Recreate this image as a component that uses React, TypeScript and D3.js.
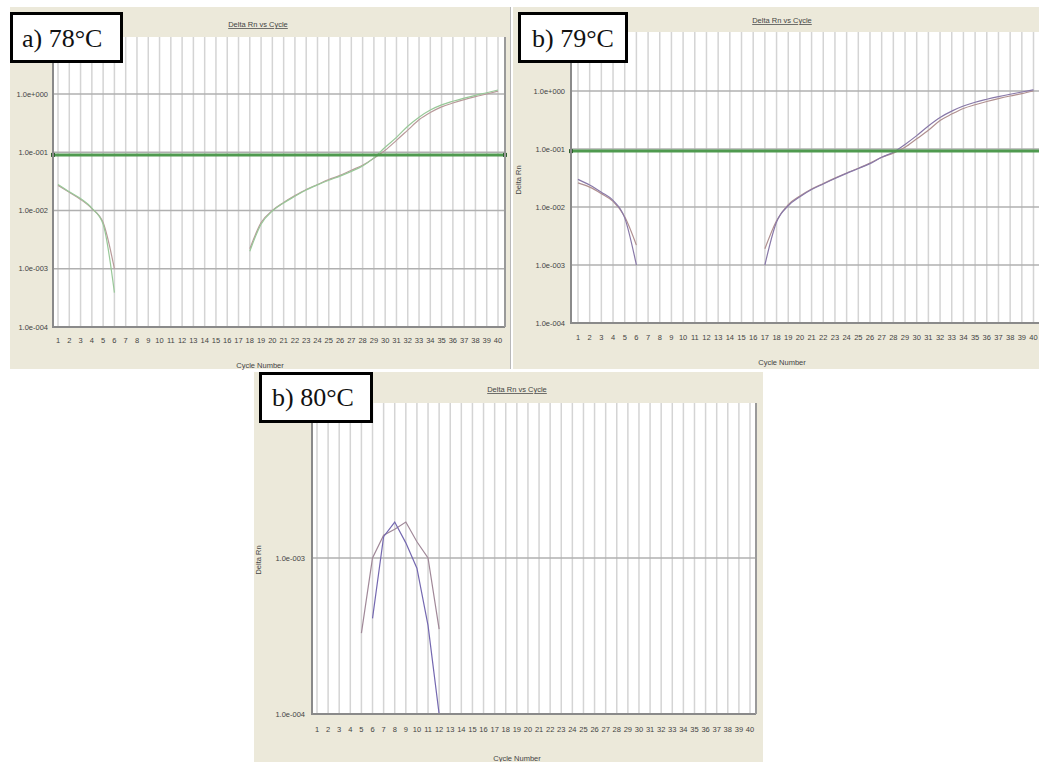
import React from "react";
import * as d3 from "d3";

// ---------- DATA ----------
const cycleTicks = [1, 2, 3, 4, 5, 6, 7, 8, 9, 10, 11, 12, 13, 14, 15, 16, 17, 18, 19, 20,
  21, 22, 23, 24, 25, 26, 27, 28, 29, 30, 31, 32, 33, 34, 35, 36, 37, 38, 39, 40];

const yTickValuesAB = [1, 0.1, 0.01, 0.001, 0.0001];
const yTickLabelsAB = ["1.0e+000", "1.0e-001", "1.0e-002", "1.0e-003", "1.0e-004"];
const yTickValuesC = [0.001, 0.0001];
const yTickLabelsC = ["1.0e-003", "1.0e-004"];

// Panel a) 78°C
const aEarlyCycles = [1, 2, 3, 4, 5, 6];
const aEarlyPink = [0.027, 0.0205, 0.0155, 0.0108, 0.0062, 0.001];
const aEarlyGreen = [0.028, 0.021, 0.016, 0.011, 0.0058, 0.00039];
const aLateCycles = [18, 19, 20, 21, 22, 23, 24, 25, 26, 27, 28, 29, 30, 31, 32, 33, 34, 35, 36, 37, 38, 39, 40];
const aLatePink = [0.0022, 0.0062, 0.0100, 0.0137, 0.018, 0.023, 0.028, 0.034, 0.040, 0.049, 0.060, 0.079,
  0.108, 0.16, 0.24, 0.36, 0.48, 0.60, 0.70, 0.80, 0.90, 1.0, 1.12];
const aLateGreen = [0.0020, 0.0058, 0.0098, 0.0135, 0.0175, 0.0225, 0.0275, 0.033, 0.039, 0.047, 0.058, 0.080,
  0.122, 0.18, 0.28, 0.40, 0.53, 0.65, 0.75, 0.85, 0.95, 1.05, 1.17];
const aThreshold = 0.09;

// Panel b) 79°C
const bEarlyCycles = [1, 2, 3, 4, 5, 6];
const bEarlyPurple = [0.030, 0.024, 0.018, 0.013, 0.0065, 0.001];
const bEarlyPink = [0.026, 0.022, 0.017, 0.0125, 0.0068, 0.0022];
const bLateCycles = [17, 18, 19, 20, 21, 22, 23, 24, 25, 26, 27, 28, 29, 30, 31, 32, 33, 34, 35, 36, 37, 38, 39, 40];
const bLatePurple = [0.001, 0.0055, 0.0105, 0.015, 0.020, 0.025, 0.031, 0.038, 0.046, 0.056, 0.072, 0.088,
  0.12, 0.17, 0.25, 0.35, 0.45, 0.55, 0.64, 0.72, 0.80, 0.88, 0.96, 1.05];
const bLatePink = [0.0019, 0.0058, 0.011, 0.0155, 0.0205, 0.0255, 0.0315, 0.0385, 0.0465, 0.057, 0.072, 0.085,
  0.107, 0.15, 0.21, 0.31, 0.40, 0.50, 0.58, 0.66, 0.74, 0.82, 0.90, 1.0];
const bThreshold = 0.092;

// Panel b) 80°C
const cPinkCycles = [5, 6, 7, 8, 9, 10, 11, 12];
const cPink = [0.00033, 0.0010, 0.0014, 0.00153, 0.0017, 0.00127, 0.0010, 0.00035];
const cPurpleCycles = [6, 7, 8, 9, 10, 11, 12];
const cPurple = [0.00041, 0.00137, 0.0017, 0.00125, 0.00086, 0.00037, 0.0001];

// ---------- LAYOUT ----------
const BEIGE = "#ECE9DA";
const FONT = "'Liberation Sans', Arial, sans-serif";

type Series = { cycles: number[]; values: number[]; color: string; curve: any };

type Layout = {
  bg: [number, number, number, number];
  left: number; right: number; top: number; bottom: number;
  x1: number; x40: number;
  yLowVal: number; yHighVal: number; yHighPx: number;
  yLabelRight: number;
  xTickBase: number;
  title: [number, number];
  xTitle: [number, number];
  yTitle?: [number, number];
  box: [number, number, number, number];
  labelPos: [number, number];
  rightBorder: boolean;
};

function Panel({ L, series, threshold, yVals, yLabels, label }: {
  L: Layout; series: Series[]; threshold?: number; yVals: number[]; yLabels: string[]; label: string;
}) {
  const x = d3.scaleLinear().domain([1, 40]).range([L.x1, L.x40]);
  const y = d3.scaleLog().domain([L.yLowVal, L.yHighVal]).range([L.bottom, L.yHighPx]);
  const plotW = L.right - L.left;
  const plotH = L.bottom - L.top;
  const clipId = "clip" + L.left;
  return (
    <g>
      <rect x={L.bg[0]} y={L.bg[1]} width={L.bg[2]} height={L.bg[3]} fill={BEIGE} />
      <defs>
        <clipPath id={clipId}>
          <rect x={L.left} y={L.top} width={plotW} height={plotH} />
        </clipPath>
      </defs>
      <rect x={L.left} y={L.top} width={plotW} height={plotH} fill="#fff" />
      {cycleTicks.map((c) => (
        <line key={"v" + c} x1={x(c)} x2={x(c)} y1={L.top} y2={L.bottom} stroke="#d4d4d4" strokeWidth={1.5} />
      ))}
      {yVals.filter((v) => v !== L.yLowVal).map((v) => (
        <line key={"h" + v} x1={L.left} x2={L.right} y1={y(v)} y2={y(v)} stroke="#b0b0b0" strokeWidth={1.3} />
      ))}
      <g clipPath={`url(#${clipId})`}>
        {series.map((s, i) => {
          const line = d3.line<number>()
            .x((_, j) => x(s.cycles[j]))
            .y((v) => y(v))
            .curve(s.curve);
          return <path key={i} d={line(s.values) || ""} fill="none" stroke={s.color} strokeWidth={1.2} />;
        })}
      </g>
      {threshold !== undefined && (
        <g>
          <line x1={L.left} x2={L.right} y1={y(threshold)} y2={y(threshold)} stroke="#4f9a4f" strokeWidth={3} />
          <rect x={L.left - 2} y={y(threshold) - 2} width={4} height={4} fill="#2f5f2f" />
          <rect x={L.right - 2} y={y(threshold) - 2} width={4} height={4} fill="#2f5f2f" />
        </g>
      )}
      <line x1={L.left} x2={L.left} y1={L.top} y2={L.bottom + 1} stroke="#8a8a8a" strokeWidth={2} />
      <line x1={L.left} x2={L.right} y1={L.bottom} y2={L.bottom} stroke="#8a8a8a" strokeWidth={2} />
      {L.rightBorder && (
        <line x1={L.right} x2={L.right} y1={L.top} y2={L.bottom} stroke="#9a9a9a" strokeWidth={2} />
      )}
      {yVals.map((v, i) => (
        <text key={"yl" + i} x={L.yLabelRight} y={y(v) + 2.5} textAnchor="end" fontSize={7.5}
          fontFamily={FONT} fill="#444">{yLabels[i]}</text>
      ))}
      {cycleTicks.map((c) => (
        <text key={"xl" + c} x={x(c)} y={L.xTickBase} textAnchor="middle" fontSize={7.5}
          fontFamily={FONT} fill="#444">{c}</text>
      ))}
      <text x={L.title[0]} y={L.title[1]} textAnchor="middle" fontSize={7.5} fontFamily={FONT}
        fill="#444" style={{ textDecoration: "underline" }}>Delta Rn vs Cycle</text>
      <text x={L.xTitle[0]} y={L.xTitle[1]} textAnchor="middle" fontSize={7.5} fontFamily={FONT}
        fill="#444">Cycle Number</text>
      {L.yTitle && (
        <text x={L.yTitle[0]} y={L.yTitle[1]} textAnchor="middle" fontSize={7.5} fontFamily={FONT}
          fill="#444" transform={`rotate(-90 ${L.yTitle[0]} ${L.yTitle[1]})`}>Delta Rn</text>
      )}
      <rect x={L.box[0]} y={L.box[1]} width={L.box[2]} height={L.box[3]} fill="#fff" stroke="#000" strokeWidth={3} />
      <text x={L.labelPos[0]} y={L.labelPos[1]} fontSize={26} fontFamily="'Liberation Serif', 'Times New Roman', serif"
        fill="#111">{label}</text>
    </g>
  );
}

const layoutA: Layout = {
  bg: [10, 7, 500, 362],
  left: 53, right: 505, top: 37, bottom: 327,
  x1: 58, x40: 498,
  yLowVal: 0.0001, yHighVal: 1, yHighPx: 94,
  yLabelRight: 48,
  xTickBase: 343,
  title: [258, 27],
  xTitle: [260, 368],
  box: [11.5, 13.5, 110, 48],
  labelPos: [22, 47],
  rightBorder: true,
};

const layoutB: Layout = {
  bg: [513, 7, 526, 362],
  left: 571, right: 1048, top: 32, bottom: 323,
  x1: 578, x40: 1033.5,
  yLowVal: 0.0001, yHighVal: 1, yHighPx: 91,
  yLabelRight: 565,
  xTickBase: 340,
  title: [782, 23],
  xTitle: [782, 365],
  yTitle: [521, 180],
  box: [519.5, 13.5, 107, 48],
  labelPos: [532, 47],
  rightBorder: false,
};

const layoutC: Layout = {
  bg: [254, 372, 509, 390],
  left: 312, right: 756, top: 403, bottom: 714,
  x1: 317, x40: 750,
  yLowVal: 0.0001, yHighVal: 0.001, yHighPx: 558,
  yLabelRight: 305,
  xTickBase: 732,
  title: [517, 392],
  xTitle: [517, 761],
  yTitle: [261, 560],
  box: [260.5, 373.5, 111, 48],
  labelPos: [272, 406],
  rightBorder: true,
};

export default function App() {
  const smooth = d3.curveMonotoneX;
  const seriesA: Series[] = [
    { cycles: aEarlyCycles, values: aEarlyPink, color: "#b89a9a", curve: smooth },
    { cycles: aEarlyCycles, values: aEarlyGreen, color: "#98c898", curve: smooth },
    { cycles: aLateCycles, values: aLatePink, color: "#b89a9a", curve: smooth },
    { cycles: aLateCycles, values: aLateGreen, color: "#98c898", curve: smooth },
  ];
  const seriesB: Series[] = [
    { cycles: bEarlyCycles, values: bEarlyPink, color: "#b09090", curve: smooth },
    { cycles: bEarlyCycles, values: bEarlyPurple, color: "#8878a8", curve: smooth },
    { cycles: bLateCycles, values: bLatePink, color: "#b09090", curve: smooth },
    { cycles: bLateCycles, values: bLatePurple, color: "#8878a8", curve: smooth },
  ];
  const seriesC: Series[] = [
    { cycles: cPinkCycles, values: cPink, color: "#a08898", curve: d3.curveLinear },
    { cycles: cPurpleCycles, values: cPurple, color: "#7468b0", curve: d3.curveLinear },
  ];
  return (
    <div style={{ position: "absolute", left: 0, top: 0 }}>
      <svg width={1039} height={762} style={{ display: "block", background: "#fff" }}>
        <line x1={510.5} x2={510.5} y1={7} y2={369} stroke="#b8b8b8" strokeWidth={1} />
        <Panel L={layoutA} series={seriesA} threshold={aThreshold} yVals={yTickValuesAB}
          yLabels={yTickLabelsAB} label="a) 78°C" />
        <Panel L={layoutB} series={seriesB} threshold={bThreshold} yVals={yTickValuesAB}
          yLabels={yTickLabelsAB} label="b) 79°C" />
        <Panel L={layoutC} series={seriesC} yVals={yTickValuesC} yLabels={yTickLabelsC} label="b) 80°C" />
      </svg>
    </div>
  );
}
